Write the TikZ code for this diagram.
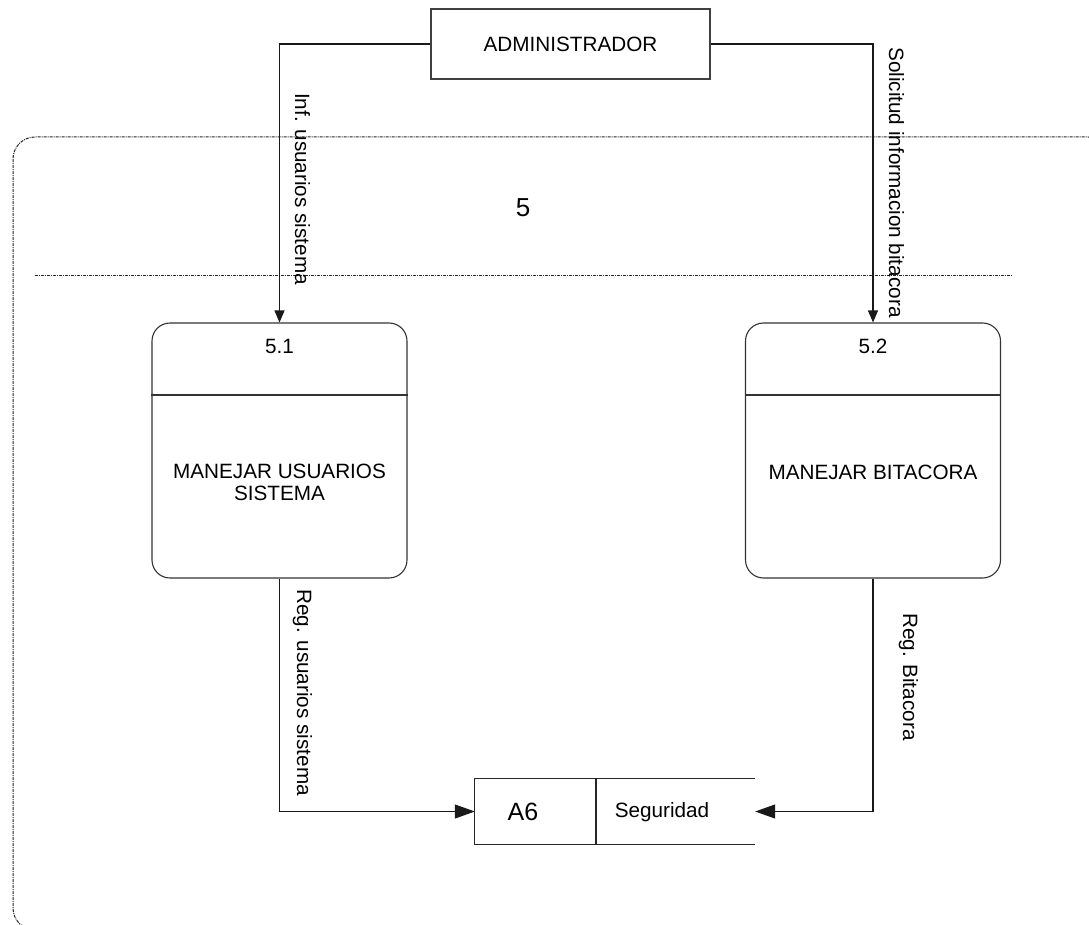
\documentclass[tikz,border=0pt]{standalone}
\usepackage{fontspec}
\setmainfont{Liberation Sans}
\usetikzlibrary{arrows.meta}
\begin{document}
\begin{tikzpicture}[x=1pt,y=-1pt,
  txt/.style={font=\fontsize{20.7}{22}\selectfont, inner sep=0pt, align=center},
  entity/.style={draw=black!75, line width=1.1pt, minimum width=279pt, minimum height=70pt, txt},
  process/.style={draw=black!80, line width=1.1pt, rounded corners=18pt, minimum width=255pt, minimum height=255pt},
  flow/.style={line width=1.1pt, draw=black!90},
  downtip/.style={-{Triangle[length=12pt,width=10pt]}},
  storetip/.style={-{Triangle[length=20pt,width=14pt]}},
  frame/.style={draw=black!85, line width=1pt, dash pattern=on 3pt off 1pt on 1pt off 1pt},
  vlabel/.style={txt, rotate=-90, anchor=base west}
]
\useasboundingbox (0,0) rectangle (1089,925);
\fill[white] (0,0) rectangle (1089,925);

% process boundary and its header divider
\begin{scope}
  \clip (0,0) rectangle (1089,925);
  \draw[frame, rounded corners=22pt] (13,137) rectangle (1110,930);
\end{scope}
\draw[frame] (35,276) -- (1012,276);
\node[txt, font=\fontsize{26}{28}\selectfont] (pnum) at (523,208) {5};

% external entity
\node[entity] (admin) at (570.5,44) {ADMINISTRADOR};

% sub-processes
\node[process] (p51) at (279.5,450.5) {};
\node[process] (p52) at (873,450.5) {};
\draw[draw=black!80, line width=1.1pt] (p51.west |- 0,395) -- (p51.east |- 0,395);
\draw[draw=black!80, line width=1.1pt] (p52.west |- 0,395) -- (p52.east |- 0,395);
\node[txt] (p51id) at (279.5,346) {5.1};
\node[txt] (p52id) at (873,346) {5.2};
\node[txt] (p51name) at (279.5,482) {MANEJAR USUARIOS\\SISTEMA};
\node[txt] (p52name) at (873,472) {MANEJAR BITACORA};

% data store
\node[minimum width=280pt, minimum height=65pt, inner sep=0pt] (store) at (615,811.5) {};
\draw[draw=black!85, line width=1.1pt] (store.north east) -- (store.north west) -- (store.south west) -- (store.south east);
\draw[draw=black!85, line width=1.1pt] (596,779) -- (596,844);
\node[txt, font=\fontsize{25}{27}\selectfont] (storeid) at (523,812) {A6};
\node[txt] (storename) at (662,812) {Seguridad};

% data flows
\draw[flow, downtip] (admin.west) -| (p51.north);
\draw[flow, downtip] (admin.east) -| (p52.north);
\draw[flow, storetip] (p51.south) |- (store.west);
\draw[flow, storetip] (p52.south) |- (store.east);

% flow labels
\node[vlabel] (l1) at (295,93) {Inf. usuarios sistema};
\node[vlabel] (l2) at (889,47) {Solicitud informacion bitacora};
\node[vlabel] (l3) at (297,589) {Reg. usuarios sistema};
\node[vlabel] (l4) at (903,613) {Reg. Bitacora};
\end{tikzpicture}
\end{document}
